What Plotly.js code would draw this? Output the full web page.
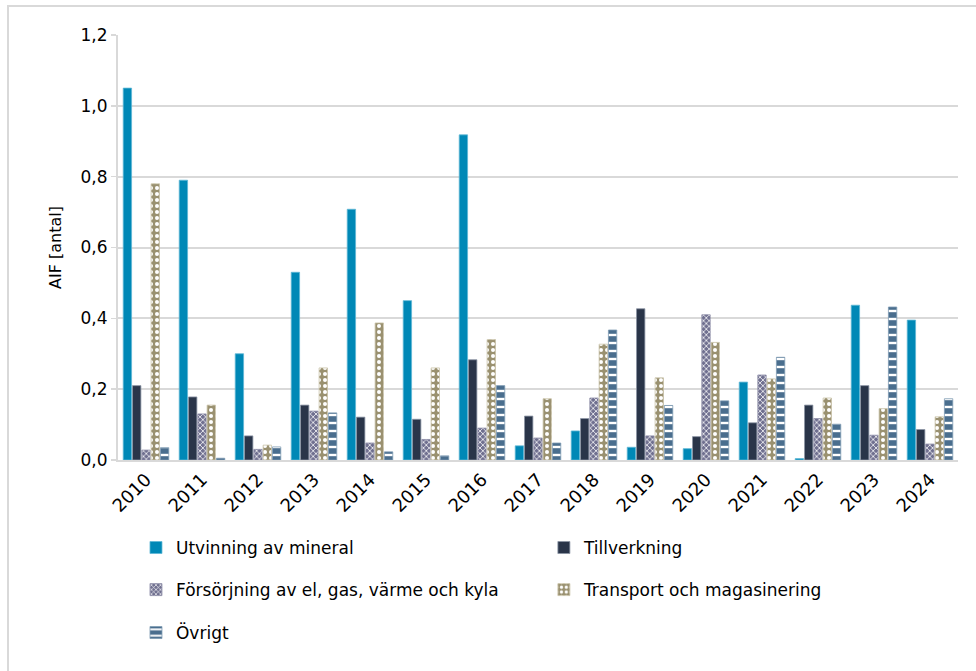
<!DOCTYPE html>
<html>
<head>
<meta charset="utf-8">
<script src="https://cdn.plot.ly/plotly-3.0.1.min.js"></script>
<style>
  html, body { margin: 0; padding: 0; background: #fff; overflow: hidden; }
  #wrap { position: relative; width: 976px; height: 671px; overflow: hidden; }
  #chart { position: absolute; left: 0; top: 0; width: 976px; height: 671px; }
  #frame { position: absolute; left: 7px; top: 5px; width: 1000px; height: 1000px;
           border: 2px solid #D9D9D9; box-sizing: border-box; pointer-events: none; }
</style>
</head>
<body>
<div id="wrap">
  <div id="chart"></div>
  <div id="frame"></div>
</div>
<script>
const years = ['2010','2011','2012','2013','2014','2015','2016','2017','2018','2019','2020','2021','2022','2023','2024'];
const utvinning   = [1.050, 0.790, 0.300, 0.530, 0.708, 0.450, 0.918, 0.040, 0.082, 0.036, 0.032, 0.220, 0.004, 0.437, 0.395];
const tillverkning= [0.210, 0.178, 0.068, 0.155, 0.121, 0.115, 0.283, 0.124, 0.117, 0.427, 0.066, 0.105, 0.155, 0.210, 0.086];
const forsorjning = [0.028, 0.130, 0.030, 0.138, 0.048, 0.058, 0.090, 0.062, 0.175, 0.068, 0.410, 0.240, 0.117, 0.070, 0.045];
const transport   = [0.780, 0.155, 0.042, 0.260, 0.387, 0.260, 0.340, 0.173, 0.327, 0.232, 0.332, 0.229, 0.175, 0.145, 0.122];
const ovrigt      = [0.035, 0.005, 0.037, 0.133, 0.023, 0.012, 0.210, 0.048, 0.367, 0.154, 0.167, 0.290, 0.101, 0.432, 0.173];
const seriesNames = ['Utvinning av mineral', 'Tillverkning', 'Försörjning av el, gas, värme och kyla', 'Transport och magasinering', 'Övrigt'];
const yTicks = [0, 0.2, 0.4, 0.6, 0.8, 1.0, 1.2];

const FONT = 'DejaVu Sans, Verdana, sans-serif';

const traces = [
  { name: seriesNames[0], y: utvinning, legend: 'legend',
    marker: { color: '#0088B6', line: { color: '#5FB8D6', width: 0.8 } } },
  { name: seriesNames[1], y: tillverkning, legend: 'legend2',
    marker: { color: '#2A3549', line: { color: '#8A93A3', width: 0.8 } } },
  { name: seriesNames[2], y: forsorjning, legend: 'legend3',
    marker: { color: '#6F6F8F', line: { color: '#8B8BA6', width: 0.8 },
      pattern: { shape: 'x', fgcolor: '#FFFFFF', bgcolor: '#6F6F8F', size: 4, solidity: 0.35, fillmode: 'replace' } } },
  { name: seriesNames[3], y: transport, legend: 'legend4',
    marker: { color: '#9A9170', line: { color: '#C9C3A8', width: 0.8 },
      pattern: { shape: '.', fgcolor: '#FFFFFF', bgcolor: '#9A9170', size: 6, solidity: 0.35, fillmode: 'replace' } } },
  { name: seriesNames[4], y: ovrigt, legend: 'legend5',
    marker: { color: '#4A6E8E', line: { color: '#7E9AB2', width: 0.8 },
      pattern: { shape: '-', fgcolor: '#FFFFFF', bgcolor: '#4A6E8E', size: 8, solidity: 0.3, fillmode: 'replace' } } }
].map(t => Object.assign({ type: 'bar', x: years, hoverinfo: 'x+y+name' }, t));

function leg(x, y) {
  return {
    orientation: 'v', xanchor: 'left', yanchor: 'middle', x: x, y: y,
    font: { family: FONT, size: 17, color: '#000' },
    itemwidth: 30, bgcolor: 'rgba(0,0,0,0)'
  };
}
const COL1 = 0.0214, COL2 = 0.507;
const ROW1 = -0.207, ROW2 = -0.306, ROW3 = -0.407;

const layout = {
  width: 976, height: 671,
  margin: { l: 118, r: 18, t: 35, b: 211 },
  paper_bgcolor: '#FFFFFF', plot_bgcolor: '#FFFFFF',
  separators: ', ',
  font: { family: FONT, size: 17, color: '#000' },
  barmode: 'group', bargap: 0.17, bargroupgap: 0.1,
  showlegend: true,
  legend:  leg(COL1, ROW1),
  legend2: leg(COL2, ROW1),
  legend3: leg(COL1, ROW2),
  legend4: leg(COL2, ROW2),
  legend5: leg(COL1, ROW3),
  xaxis: {
    type: 'category', tickangle: -45, showgrid: false,
    showline: true, linecolor: '#D9D9D9', linewidth: 2,
    ticks: '', tickfont: { family: FONT, size: 18, color: '#000' },
    fixedrange: true
  },
  yaxis: {
    range: [0, 1.2], tickvals: yTicks, tickformat: '.1f',
    showgrid: true, gridcolor: '#D9D9D9', gridwidth: 2,
    zeroline: false, showline: true, linecolor: '#D9D9D9', linewidth: 2,
    ticks: 'outside', ticklen: 5, tickcolor: '#D9D9D9', tickwidth: 1.5,
    tickfont: { family: FONT, size: 17, color: '#000' },
    title: { text: 'AIF [antal]', font: { family: FONT, size: 16, color: '#000' }, standoff: 15 },
    fixedrange: true
  }
};

Plotly.newPlot('chart', traces, layout, { displayModeBar: false, staticPlot: true });
</script>
</body>
</html>
